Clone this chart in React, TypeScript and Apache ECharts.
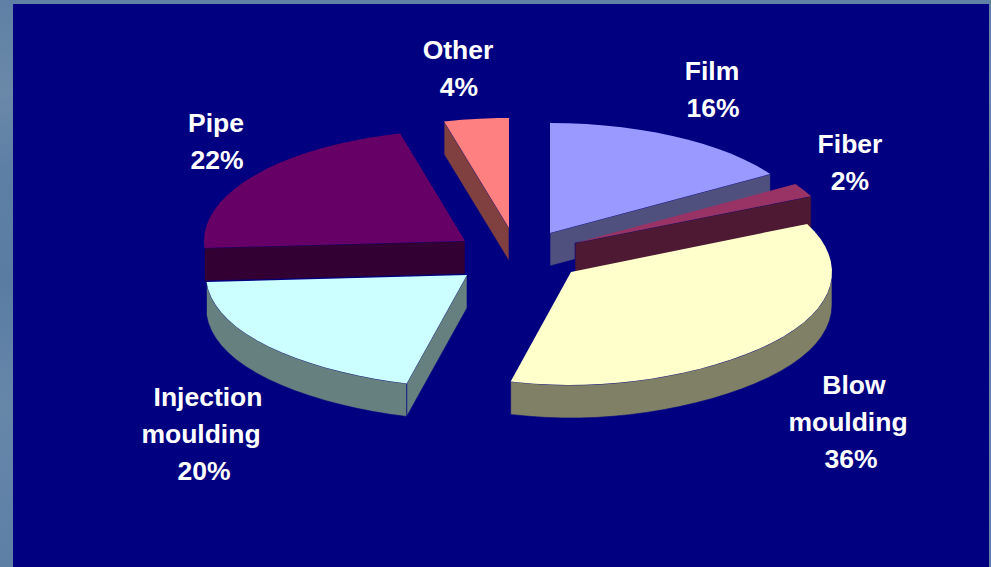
import React, { useEffect, useRef } from "react";
import * as echarts from "echarts";

// Market share by processing route, clockwise from twelve o'clock.
const categories = ["Film", "Fiber", "Blow\nmoulding", "Injection\nmoulding", "Pipe", "Other"];
const shares = [16, 2, 36, 20, 22, 4];
const topColors = ["#9999FF", "#993366", "#FFFFCC", "#CCFFFF", "#660066", "#FF8080"];
const wallColors = ["#50507F", "#4D1933", "#808066", "#668080", "#330033", "#804040"];

// Exploded-pie layout: where each wedge's apex sits, its vertical radius,
// paint order, where its caption is centred and how far each caption line is nudged.
const RX = 261;
const DEPTH = 33;
const LINE_HEIGHT = 37;
const wedgeLayout = [
  { cx: 550, cy: 233, ry: 110, z: 3, lx: 712, ly: 89, nudge: [0, 1] },
  { cx: 575, cy: 243, ry: 110, z: 4, lx: 850, ly: 162, nudge: [0, 0] },
  { cx: 571, cy: 272, ry: 113, z: 6, lx: 848, ly: 422, nudge: [6, 0, 3] },
  { cx: 467, cy: 275, ry: 112, z: 5, lx: 204, ly: 434, nudge: [4, -3, 0] },
  { cx: 465, cy: 241, ry: 111, z: 2, lx: 217, ly: 141, nudge: [-1, 0] },
  { cx: 509, cy: 228, ry: 110, z: 1, lx: 458, ly: 68, nudge: [0, 1] },
];

const total = shares.reduce((a, b) => a + b, 0);
const startShare = shares.map((_, i) => shares.slice(0, i).reduce((a, b) => a + b, 0));

function rim(l: { cx: number; cy: number; ry: number }, deg: number, drop = 0): number[] {
  const t = (deg * Math.PI) / 180;
  const c = Math.cos(t);
  // The nearest part of the rim is pulled in slightly by the 3D projection.
  const squeeze = c < 0 ? 1 - 0.08 * c * c * c * c : 1;
  return [l.cx + RX * Math.sin(t) * squeeze, l.cy - l.ry * c + drop];
}

function renderWedge(params: any, api: any) {
  const i = params.dataIndex;
  const l = wedgeLayout[i];
  const a0 = (startShare[i] / total) * 360;
  const a1 = a0 + (api.value(0) / total) * 360;
  const mid = rim(l, (a0 + a1) / 2);
  const children: any[] = [];
  const edge = { stroke: "#000080", lineWidth: 0.6 };
  const STEP = 4;

  // Flat side walls along the two radial cuts, only where they face the viewer.
  [a0, a1].forEach((deg) => {
    const p = rim(l, deg);
    let nx = -(p[1] - l.cy);
    let ny = p[0] - l.cx;
    if (nx * (mid[0] - l.cx) + ny * (mid[1] - l.cy) > 0) {
      nx = -nx;
      ny = -ny;
    }
    if (ny > 0.01) {
      children.push({
        type: "polygon",
        z2: l.z,
        shape: { points: [[l.cx, l.cy], p, [p[0], p[1] + DEPTH], [l.cx, l.cy + DEPTH]] },
        style: { fill: wallColors[i], ...edge },
      });
    }
  });

  // Curved outer wall on the near half of the rim.
  const w0 = Math.max(a0, 90);
  const w1 = Math.min(a1, 270);
  if (w1 > w0) {
    const upper: number[][] = [];
    const lower: number[][] = [];
    for (let d = w0; d < w1; d += STEP) {
      upper.push(rim(l, d));
      lower.unshift(rim(l, d, DEPTH));
    }
    upper.push(rim(l, w1));
    lower.unshift(rim(l, w1, DEPTH));
    children.push({
      type: "polygon",
      z2: l.z,
      shape: { points: upper.concat(lower) },
      style: { fill: wallColors[i], ...edge },
    });
  }

  // Top face.
  const top: number[][] = [[l.cx, l.cy]];
  for (let d = a0; d < a1; d += STEP) top.push(rim(l, d));
  top.push(rim(l, a1));
  children.push({
    type: "polygon",
    z2: l.z + 0.5,
    shape: { points: top },
    style: { fill: topColors[i] },
  });

  // Caption: name lines above the percentage, each line centred on its own.
  const lines = `${categories[i]}\n${api.value(0)}%`.split("\n");
  lines.forEach((line, k) => {
    children.push({
      type: "text",
      z2: 20,
      style: {
        text: line,
        x: l.lx + l.nudge[k],
        y: l.ly + (k - (lines.length - 1) / 2) * LINE_HEIGHT,
        fill: "#FFFFFF",
        font: 'bold 26.5px "Liberation Sans", Arial, sans-serif',
        align: "center",
        verticalAlign: "middle",
        textAlign: "center",
        textVerticalAlign: "middle",
      },
    });
  });

  return { type: "group", children };
}

export default function App() {
  const ref = useRef<HTMLDivElement>(null);
  useEffect(() => {
    const chart = echarts.init(ref.current!, undefined, { renderer: "svg" });
    chart.setOption({
      animation: false,
      backgroundColor: {
        type: "linear",
        x: 0,
        y: 0,
        x2: 0,
        y2: 1,
        colorStops: [
          { offset: 0, color: "#5F80A4" },
          { offset: 0.16, color: "#6A89A9" },
          { offset: 0.3, color: "#5E7FA5" },
          { offset: 0.5, color: "#5A7CA3" },
          { offset: 0.72, color: "#6787A9" },
          { offset: 1, color: "#5D7FA6" },
        ],
      },
      graphic: [
        {
          type: "rect",
          z: -1,
          shape: { x: 13, y: 4, width: 976, height: 563 },
          style: { fill: "#000080" },
        },
      ],
      series: [
        {
          type: "custom",
          coordinateSystem: "none",
          renderItem: renderWedge,
          data: shares.map((v) => [v]),
          encode: { value: 0 },
          silent: true,
        },
      ],
    });
    return () => chart.dispose();
  }, []);
  return <div ref={ref} style={{ position: "absolute", left: 0, top: 0, width: 991, height: 567 }} />;
}
